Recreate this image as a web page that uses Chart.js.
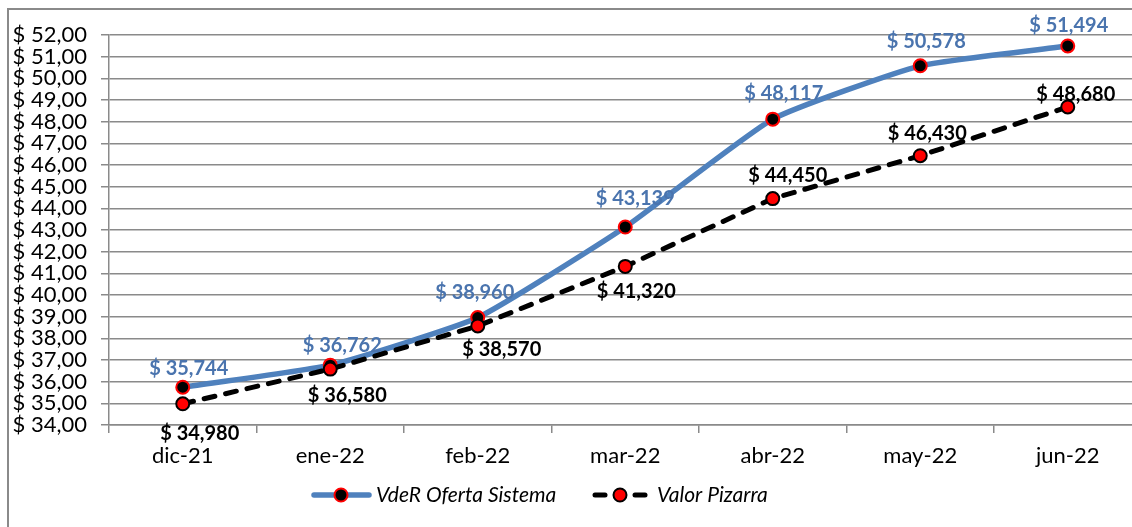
<!DOCTYPE html>
<html>
<head>
<meta charset="utf-8">
<script src="https://cdn.jsdelivr.net/npm/chart.js@4"></script>
<style>
  html, body { margin: 0; padding: 0; background: #fff; overflow: hidden; }
  #frame { position: absolute; left: 7px; top: 8px; width: 1200px; height: 600px;
           border-left: 2px solid #8a8a8a; border-top: 2px solid #8a8a8a; }
  #wrap { position: absolute; left: 0; top: 0; width: 1150px; height: 527px; }
</style>
</head>
<body>
<div id="frame"></div>
<div id="wrap"><canvas id="chart"></canvas></div>
<script>
const months = ['dic-21', 'ene-22', 'feb-22', 'mar-22', 'abr-22', 'may-22', 'jun-22'];
const vdeROferta = [35.744, 36.762, 38.960, 43.139, 48.117, 50.578, 51.494];
const valorPizarra = [34.980, 36.580, 38.570, 41.320, 44.450, 46.430, 48.680];
const seriesNames = ['VdeR Oferta Sistema', 'Valor Pizarra'];

// where each value label sits relative to its point
const blueLabelOffsets = [[6, -19], [12, -20], [-3, -25], [10, -28], [11, -26], [6, -24], [1, -20]];
const blackLabelOffsets = [[17, 30], [17, 26], [24, 24], [11, 25], [15, -23], [7, -22], [8, -12]];

const BLUE = '#4F81BD';
const fmt = v => '$ ' + v.toFixed(3).replace('.', ',');

const valueLabels = {
  id: 'valueLabels',
  afterDatasetsDraw(chart) {
    const ctx = chart.ctx;
    chart.data.datasets.forEach((ds, i) => {
      const meta = chart.getDatasetMeta(i);
      ctx.save();
      ctx.font = 'bold 20px Lato';
      ctx.fillStyle = ds.labelColor;
      ctx.textAlign = 'center';
      ctx.textBaseline = 'middle';
      meta.data.forEach((pt, j) => {
        const off = ds.labelOffsets[j];
        ctx.fillText(fmt(ds.data[j]), pt.x + off[0], pt.y + off[1]);
      });
      ctx.restore();
    });
  }
};

const customLegend = {
  id: 'customLegend',
  afterDraw(chart) {
    const ctx = chart.ctx;
    const y = 495;
    ctx.save();
    ctx.font = 'italic 21px Lato';
    ctx.textBaseline = 'middle';
    ctx.textAlign = 'left';
    // item 1
    ctx.strokeStyle = BLUE; ctx.lineWidth = 5.5; ctx.lineCap = 'round';
    ctx.beginPath(); ctx.moveTo(314, y); ctx.lineTo(369, y); ctx.stroke();
    ctx.beginPath(); ctx.arc(341, y, 6.5, 0, Math.PI * 2);
    ctx.fillStyle = '#000'; ctx.fill();
    ctx.lineWidth = 2; ctx.strokeStyle = '#FF0000'; ctx.stroke();
    ctx.fillStyle = '#000';
    ctx.fillText(seriesNames[0], 376, y);
    // item 2
    ctx.strokeStyle = '#000'; ctx.lineWidth = 5; ctx.lineCap = 'round';
    ctx.beginPath(); ctx.moveTo(595, y); ctx.lineTo(605, y); ctx.stroke();
    ctx.beginPath(); ctx.moveTo(635, y); ctx.lineTo(645, y); ctx.stroke();
    ctx.beginPath(); ctx.arc(620, y, 6.5, 0, Math.PI * 2);
    ctx.fillStyle = '#FF0000'; ctx.fill();
    ctx.lineWidth = 2; ctx.strokeStyle = '#000'; ctx.stroke();
    ctx.fillStyle = '#000';
    ctx.fillText(seriesNames[1], 657, y);
    ctx.restore();
  }
};

new Chart(document.getElementById('chart'), {
  type: 'line',
  data: {
    labels: months,
    datasets: [
      {
        label: seriesNames[0],
        data: vdeROferta,
        borderColor: BLUE,
        borderWidth: 5.5,
        tension: 0.15,
        pointRadius: 6.5,
        pointBackgroundColor: '#000',
        pointBorderColor: '#FF0000',
        pointBorderWidth: 2,
        labelColor: '#4A74AE',
        labelOffsets: blueLabelOffsets,
        order: 2
      },
      {
        label: seriesNames[1],
        data: valorPizarra,
        borderColor: '#000',
        borderWidth: 5,
        borderDash: [11, 11],
        borderCapStyle: 'round',
        tension: 0,
        pointRadius: 6.5,
        pointBackgroundColor: '#FF0000',
        pointBorderColor: '#000',
        pointBorderWidth: 2,
        labelColor: '#000',
        labelOffsets: blackLabelOffsets,
        order: 1
      }
    ]
  },
  options: {
    responsive: true,
    maintainAspectRatio: false,
    animation: false,
    layout: { padding: { top: 35, right: 5, left: 0, bottom: 0 } },
    plugins: {
      legend: { display: false },
      tooltip: { enabled: false }
    },
    scales: {
      x: {
        offset: true,
        grid: { offset: true, drawOnChartArea: false, tickLength: 8, color: '#8a8a8a', lineWidth: 1.5 },
        border: { color: '#8a8a8a', width: 1.5 },
        ticks: { color: '#000', font: { family: 'Lato', size: 22 }, padding: 10, maxRotation: 0 },
        afterFit: s => { s.height = 102; }
      },
      y: {
        min: 34,
        max: 52,
        grid: { color: '#8a8a8a', lineWidth: 1.5, tickLength: 8 },
        border: { color: '#8a8a8a', width: 1.5 },
        ticks: {
          stepSize: 1,
          autoSkip: false,
          color: '#000',
          font: { family: 'Lato', size: 22, lineHeight: 1 },
          padding: 14,
          callback: v => '$ ' + v.toFixed(2).replace('.', ',')
        },
        afterFit: s => { s.width = 109; }
      }
    }
  },
  plugins: [valueLabels, customLegend]
});
</script>
</body>
</html>
